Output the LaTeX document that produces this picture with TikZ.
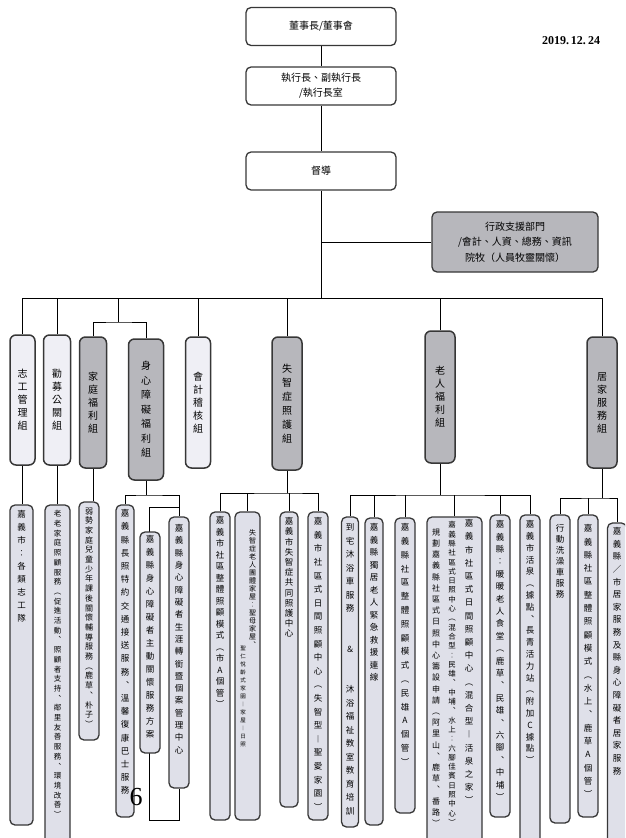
\documentclass[tikz,border=0pt]{standalone}
\usepackage{fontspec}
\setmainfont{Noto Sans CJK TC}
\newfontfamily\datefont{Liberation Serif}
\usetikzlibrary{positioning,backgrounds}

\definecolor{linegray}{RGB}{55,55,55}
\definecolor{groupgray}{RGB}{183,183,188}
\definecolor{grouplight}{RGB}{239,239,245}
\definecolor{leafgray}{RGB}{223,224,233}

\makeatletter
% stack the characters one under the other, #1 apart
\newcommand\vt[2][12pt]{\vbox{\baselineskip=#1\relax\lineskiplimit=-\maxdimen\lineskip=0pt\vt@next#2\@nil}}
\def\vt@next#1{\ifx#1\@nil\else\hbox to 1em{\hss#1\hss}\expandafter\vt@next\fi}
\makeatother

\begin{document}
\begin{tikzpicture}[x=1pt,y=-1pt,
    topbox/.style={draw=linegray,line width=1.3pt,rounded corners=5pt,fill=white,
      minimum width=150pt,minimum height=38pt,align=center,font=\fontsize{10}{15}\selectfont},
    groupbox/.style={draw=linegray,line width=1.5pt,rounded corners=6pt,fill=groupgray,
      inner sep=0pt,font=\fontsize{10}{12}\selectfont},
    grouplite/.style={groupbox,fill=grouplight},
    leafbox/.style={draw=linegray,line width=1.3pt,rounded corners=5pt,fill=leafgray,inner sep=0pt},
    leaftext/.style={inner sep=0pt,font=\fontsize{8.5}{10}\selectfont},
    link/.style={draw=linegray,line width=1.2pt}]
  \useasboundingbox (0,0) rectangle (625,838);
  \clip (0,0) rectangle (625,838);

  % top of the chart
  \node[topbox] (board) at (321,26.5) {董事長/董事會};
  \node[topbox] (ceo) at (321,86) {執行長、副執行長\\/執行長室};
  \node[topbox] (sup) at (321,171) {督導};
  \node[topbox,fill=groupgray,minimum width=166pt,minimum height=60pt,
    font=\fontsize{10}{15.5}\selectfont] (admin) at (515,242)
    {行政支援部門\\/會計、人資、總務、資訊\\院牧（人員牧靈關懷）};
  \node[font=\fontsize{12}{14}\datefont\bfseries] (date) at (571,41) {2019.\,12.\,24};

  \coordinate (bus) at (321,298);

  % groups
  \node[grouplite,minimum width=25pt,minimum height=130pt] (vol) at (22.5,400) {\vt[13pt]{志工管理組}};
  \node[grouplite,minimum width=27pt,minimum height=130pt] (fund) at (57,400) {\vt[13pt]{勸募公關組}};
  \node[groupbox,minimum width=27pt,minimum height=131pt] (fam) at (93,402.5) {\vt[13pt]{家庭福利組}};
  \node[groupbox,minimum width=35pt,minimum height=141pt] (dis) at (146,409.5) {\vt[14.5pt]{身心障礙福利組}};
  \node[grouplite,minimum width=25pt,minimum height=131pt] (acc) at (198,402.5) {\vt[13pt]{會計稽核組}};
  \node[groupbox,minimum width=30pt,minimum height=133pt] (dem) at (287,403.5) {\vt[14pt]{失智症照護組}};
  \node[groupbox,minimum width=30pt,minimum height=132pt] (eld) at (440,397) {\vt[13pt]{老人福利組}};
  \node[groupbox,minimum width=30pt,minimum height=131pt] (home) at (602,402.5) {\vt[13pt]{居家服務組}};

  % units under the groups
  \node[leafbox,minimum width=23pt,minimum height=320pt] (vol1) at (21.5,665) {};
  \node[leaftext,below=6pt of vol1.north] (vol1-t) {\vt[13pt]{嘉義市︰各類志工隊}};

  \node[leafbox,minimum width=25pt,minimum height=340pt] (fund1) at (57.5,675) {};
  \node[leaftext,font=\fontsize{7.5}{9}\selectfont,below=6pt of fund1.north] (fund1-t)
    {\vt[9.7pt]{老老家庭照顧服務︵促進活動︑照顧者支持︑鄰里友善服務︑環境改善︶}};

  \node[leafbox,minimum width=20pt,minimum height=238pt] (fam1) at (89,621) {};
  \node[leaftext,font=\fontsize{8}{9}\selectfont,below=6pt of fam1.north] (fam1-t)
    {\vt[9.7pt]{弱勢家庭兒童少年課後關懷輔導服務︵鹿草︑朴子︶}};

  \node[leafbox,minimum width=18pt,minimum height=312pt] (dis1) at (125,661) {};
  \node[leaftext,below=5pt of dis1.north] (dis1-t) {\vt[13.2pt]{嘉義縣長照特約交通接送服務︑溫馨復康巴士服務}};
  \node[leafbox,minimum width=20pt,minimum height=221pt] (dis2) at (150,642.5) {};
  \node[leaftext,below=4pt of dis2.north] (dis2-t) {\vt[13pt]{嘉義縣身心障礙者主動關懷服務方案}};
  \node[leafbox,minimum width=20pt,minimum height=271pt] (dis3) at (179,652.5) {};
  \node[leaftext,below=8pt of dis3.north] (dis3-t) {\vt[12.3pt]{嘉義縣身心障礙者生涯轉銜暨個案管理中心}};
  \node[font=\fontsize{26}{28}\datefont] (pagenum) at (136,797) {6};

  \node[leafbox,minimum width=20pt,minimum height=308pt] (dem1) at (220,666) {};
  \node[leaftext,below=5pt of dem1.north] (dem1-t) {\vt[11.5pt]{嘉義市社區整體照顧模式︵市A個管︶}};
  \node[leafbox,minimum width=25pt,minimum height=308pt] (dem2) at (247.5,666) {};
  \node[leaftext,font=\fontsize{7}{8}\selectfont,below=18pt of dem2.north,xshift=5pt] (dem2-t)
    {\vt[8pt]{失智症老人團體家屋︰聖母家屋︑}};
  \node[leaftext,font=\fontsize{5.5}{6}\selectfont,below=135pt of dem2.north,xshift=-4.5pt] (dem2-s)
    {\vt[8pt]{聖仁悅齡式家園︱家屋︱日照}};
  \node[leafbox,minimum width=18pt,minimum height=295pt] (dem3) at (289,659.5) {};
  \node[leaftext,below=6pt of dem3.north] (dem3-t) {\vt[10.2pt]{嘉義市失智症共同照護中心}};
  \node[leafbox,minimum width=20pt,minimum height=308pt] (dem4) at (318,666) {};
  \node[leaftext,below=6pt of dem4.north] (dem4-t) {\vt[13.6pt]{嘉義市社區式日間照顧中心︵失智型︱聖愛家園︶}};

  \node[leafbox,minimum width=17pt,minimum height=310pt] (eld1) at (350,672) {};
  \node[leaftext,below=7pt of eld1.north] (eld1-t) {\vt[13.5pt]{到宅沐浴車服務　　＆　　沐浴福祉教室教育培訓}};
  \node[leafbox,minimum width=18pt,minimum height=307pt] (eld2) at (374,671.5) {};
  \node[leaftext,below=6pt of eld2.north] (eld2-t) {\vt[12.5pt]{嘉義縣獨居老人緊急救援連線}};
  \node[leafbox,minimum width=20pt,minimum height=295pt] (eld3) at (405,665.5) {};
  \node[leaftext,below=6pt of eld3.north] (eld3-t) {\vt[13.8pt]{嘉義縣社區整體照顧模式︵民雄A個管︶}};
  \node[leafbox,minimum width=55pt,minimum height=333pt] (eld4) at (454.5,683.5) {};
  \node[leaftext,font=\fontsize{8}{9}\selectfont,below=12pt of eld4.north,xshift=-18.5pt] (eld4-a)
    {\vt[11.2pt]{規劃嘉義縣社區式日照中心籌設申請︵阿里山︑鹿草︑番路︶}};
  \node[leaftext,font=\fontsize{7.5}{9}\selectfont,below=5pt of eld4.north,xshift=-2.5pt] (eld4-b)
    {\vt[9.3pt]{嘉義縣社區式日照中心︵混合型︰民雄︑中埔︑水上︰六腳佳賓日照中心︶}};
  \node[leaftext,below=3pt of eld4.north,xshift=14.5pt] (eld4-c)
    {\vt[13.2pt]{嘉義市社區式日間照顧中心︵混合型︱活泉之家︶}};
  \node[leafbox,minimum width=20pt,minimum height=302pt] (eld5) at (500,666) {};
  \node[leaftext,below=6pt of eld5.north] (eld5-t) {\vt[12.4pt]{嘉義縣︰暖暖老人食堂︵鹿草︑民雄︑六腳︑中埔︶}};
  \node[leafbox,minimum width=20pt,minimum height=335pt] (eld6) at (530,682.5) {};
  \node[leaftext,below=6pt of eld6.north] (eld6-t) {\vt[11.8pt]{嘉義市活泉︵據點︑長青活力站︵附加C據點︶}};

  \node[leafbox,minimum width=20pt,minimum height=308pt] (home1) at (560,669) {};
  \node[leaftext,below=10pt of home1.north] (home1-t) {\vt[11pt]{行動洗澡車服務}};
  \node[leafbox,minimum width=20pt,minimum height=302pt] (home2) at (588,666) {};
  \node[leaftext,below=10pt of home2.north] (home2-t) {\vt[13.3pt]{嘉義縣社區整體照顧模式︵水上︑鹿草A個管︶}};
  \node[leafbox,minimum width=19pt,minimum height=327pt] (home3) at (617,686.5) {};
  \node[leaftext,below=5pt of home3.north] (home3-t) {\vt[12.6pt]{嘉義縣／市居家服務及縣身心障礙者居家服務}};

  % connectors, behind the boxes
  \begin{scope}[on background layer,link]
    \draw (board) -- (ceo) -- (sup) -- (bus);
    \draw (sup.south |- admin.west) -- (admin.west);
    \draw (vol.north |- bus) -- (home.north |- bus);
    \foreach \g in {vol,fund,acc,dem,eld,home}
      \draw (\g.north) -- (\g.north |- bus);
    \coordinate (famfork) at (118,322);
    \draw (famfork |- bus) -- (famfork);
    \draw (fam.north) |- (famfork) -| (dis.north);

    \draw (vol.south) -- (vol.south |- vol1.north);
    \draw (fund.south) -- (fund.south |- fund1.north);
    \draw (fam.south) -- (fam.south |- fam1.north);

    \coordinate (disfork) at (146,495);
    \draw (dis.south) -- (disfork);
    \draw (dis1.north) |- (disfork) -| (dis3.north);
    \draw (dis3.north |- 0,507) -| (149,820) -| (dis3.south);

    \coordinate (demfork) at (287,493);
    \draw (dem.south) -- (demfork);
    \draw (dem1.north) |- (demfork) -| (dem4.north);
    \draw (dem2.north) -- (dem2.north |- demfork);
    \draw (dem3.north) -- (dem3.north |- demfork);

    \coordinate (eldfork) at (440,495);
    \draw (eld.south) -- (eldfork);
    \draw (eld1.north) |- (eldfork) -| (eld6.north);
    \foreach \n in {2,...,5}
      \draw (eld\n.north) -- (eld\n.north |- eldfork);

    \coordinate (homefork) at (602,498);
    \draw (home.south) -- (homefork);
    \draw (home1.north) |- (homefork) -| (home3.north);
    \draw (home2.north) -- (home2.north |- homefork);
  \end{scope}
\end{tikzpicture}
\end{document}
